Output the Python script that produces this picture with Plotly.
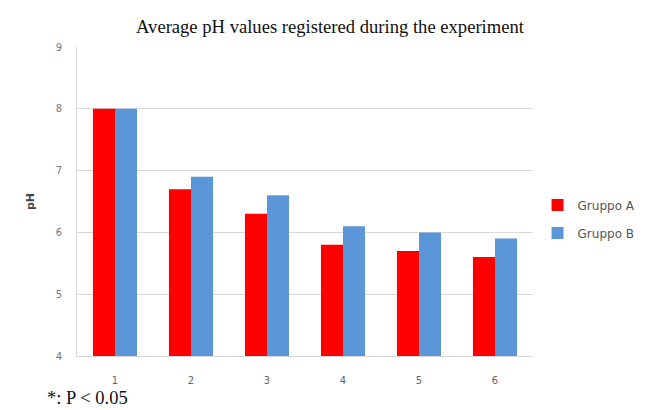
import plotly.graph_objects as go

categories = ["1", "2", "3", "4", "5", "6"]
gruppo_a = [8.0, 6.7, 6.3, 5.8, 5.7, 5.6]
gruppo_b = [8.0, 6.9, 6.6, 6.1, 6.0, 5.9]
series_names = ["Gruppo A", "Gruppo B"]
y_ticks = [4, 5, 6, 7, 8, 9]

fig = go.Figure()
fig.add_trace(go.Bar(x=categories, y=gruppo_a, name=series_names[0],
                     legendgroup="a",
                     marker=dict(color="#ff0000", line=dict(width=0))))
fig.add_trace(go.Bar(x=categories, y=gruppo_b, name=series_names[1],
                     legendgroup="b",
                     marker=dict(color="#5b97d8", line=dict(width=0))))

# page body has an 8px margin, so the figure is sized to fit the window
fig.update_layout(
    width=644, height=402,
    margin=dict(l=69, r=119, t=39, b=54, autoexpand=False),
    paper_bgcolor="white", plot_bgcolor="white",
    barmode="group", bargap=0.42, bargroupgap=0,
    title=dict(text="Average pH values registered during the experiment",
               x=0.5, xanchor="center", y=0.953, yanchor="middle",
               font=dict(family="Liberation Serif", size=18.6, color="#111")),
    legend=dict(x=1.01, y=0.443, xanchor="left", yanchor="middle",
                font=dict(family="DejaVu Sans", size=12, color="#555"),
                itemwidth=30, tracegroupgap=9),
    font=dict(family="DejaVu Sans", color="#777"),
    xaxis=dict(type="category", showgrid=False, ticks="", showline=True,
               linecolor="#d9d9d9", linewidth=1,
               tickfont=dict(size=10, color="#666"), ticklabelstandoff=15),
    yaxis=dict(range=[4, 9], tickvals=y_ticks, showgrid=True,
               gridcolor="#d9d9d9", gridwidth=1, showline=True,
               linecolor="#d9d9d9", linewidth=1, zeroline=False,
               tickfont=dict(size=10, color="#777"), ticklabelstandoff=12,
               title=dict(text="<b>pH</b>", font=dict(size=11, color="#444"),
                          standoff=18)),
)

fig.add_annotation(text="*: P < 0.05", xref="paper", yref="paper",
                   x=-0.070, y=-0.137, xanchor="left", yanchor="middle",
                   showarrow=False,
                   font=dict(family="Liberation Serif", size=18.5, color="#111"))

fig.write_html("out.html")
